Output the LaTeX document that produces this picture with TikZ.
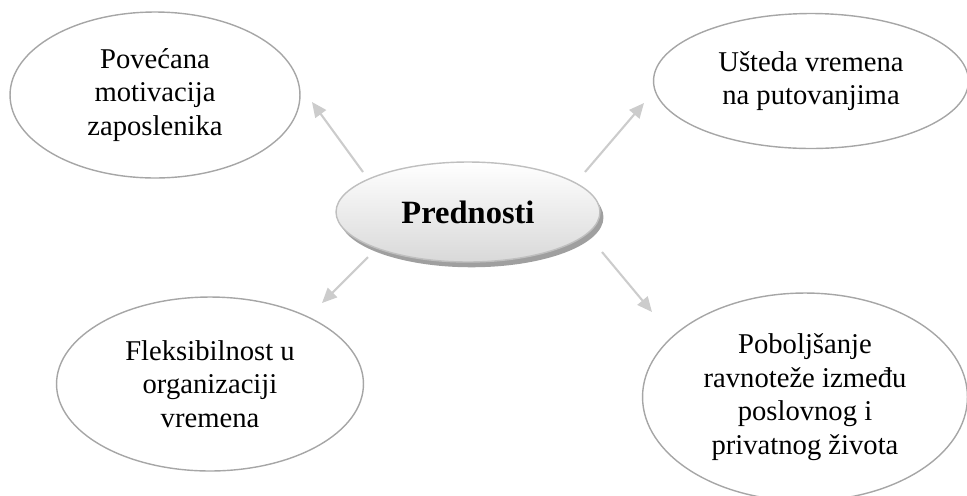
\documentclass[tikz,border=0pt]{standalone}
\usepackage{fontspec}
\setmainfont{Liberation Serif}
\usetikzlibrary{shapes.geometric, arrows.meta, shadows}

\begin{document}
\begin{tikzpicture} [x=0.02cm, y=-0.02cm,
  idea/.style={ellipse, draw=gray!70, line width=0.8pt, align=center, inner sep=0pt, font=\fontsize{16.3}{19.2}\selectfont},
  hub/.style={ellipse, draw=gray!50, line width=0.8pt, top color=white, bottom color=gray!30, drop shadow={shadow xshift=2pt, shadow yshift=-3pt, fill=gray!75, opacity=1}, font=\fontsize{18.5}{22}\selectfont\bfseries},
  arr/.style={-{Triangle[length=8.5pt, width=7.5pt]}, draw=gray!40, fill=gray!40, line width=1.2pt}]
\useasboundingbox (0, 0) rectangle (967, 495);
\clip (0, 0) rectangle (967, 495);
\node [hub, minimum width=5.28cm, minimum height=2cm] (P) at (468, 212) {Prednosti};
\node [idea, minimum width=5.8cm, minimum height=3.32cm] (motiv) at (155, 95) {Povećana\\motivacija\\zaposlenika};
\node [idea, minimum width=6.3cm, minimum height=2.7cm] (ustede) at (811, 81) {Ušteda vremena\\na putovanjima};
\node [idea, minimum width=6.14cm, minimum height=3.48cm] (fleks) at (210, 384) {Fleksibilnost u\\organizaciji\\vremena};
\node [idea, minimum width=6.5cm, minimum height=4.16cm] (ravno) at (805, 397) {Poboljšanje\\ravnoteže između\\poslovnog i\\privatnog života};
\coordinate (mS) at (363, 172);
\coordinate (mE) at (312, 102);
\coordinate (uS) at (585, 172);
\coordinate (uE) at (644, 103);
\coordinate (fS) at (368, 257);
\coordinate (fE) at (322, 303);
\coordinate (rS) at (602, 252);
\coordinate (rE) at (652, 312);
\draw[arr] (mS) -- (mE);
\draw[arr] (uS) -- (uE);
\draw[arr] (fS) -- (fE);
\draw[arr] (rS) -- (rE);
\end{tikzpicture}
\end{document}
